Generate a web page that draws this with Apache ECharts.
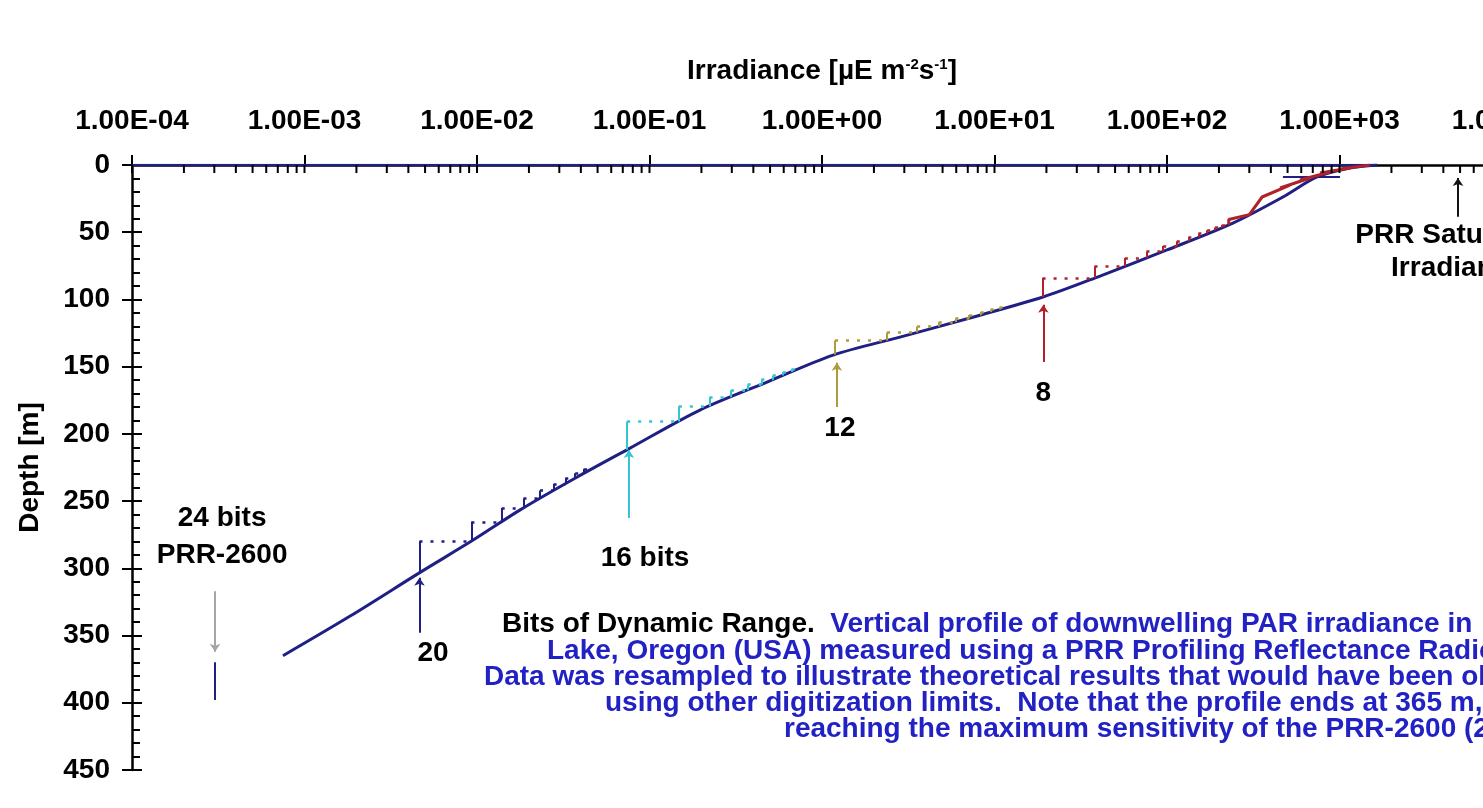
<!DOCTYPE html>
<html><head><meta charset="utf-8">
<script src="https://cdn.jsdelivr.net/npm/echarts@6/dist/echarts.min.js"></script>
<style>html,body{margin:0;padding:0;background:#fff}#c{width:1483px;height:808px}</style>
</head><body><div id="c"></div>
<script>
// ---------- data ----------
const xTickLabels = ['1.00E-04','1.00E-03','1.00E-02','1.00E-01','1.00E+00','1.00E+01','1.00E+02','1.00E+03','1.00E+04'];
const minorMult = [1,2,3,4,5,6,7,8,9];
const decades = [-4,-3,-2,-1,0,1,2,3];

// measured 24-bit profile (irradiance, depth m)
const profileIrr   = [1650, 1150, 741, 470, 241, 100, 40.9, 19.1, 7.2, 2.83, 1.16, 0.48, 0.196, 0.0771, 0.037, 0.0177, 0.0095, 0.00468, 0.00184, 0.00075];
const profileDepth = [0, 2.2, 8.9, 23.8, 43.2, 63.2, 82.6, 98.2, 113.8, 128, 141.4, 161.5, 182.3, 210.6, 233, 256.7, 279, 303, 335.5, 365];

// resampled series: quantized levels and the depth where each level is reached
const lvl20 = [0.00464, 0.00928, 0.0139, 0.0186, 0.0232, 0.0278, 0.0325, 0.0371, 0.0418, 0.0464];
const brk20 = [303, 279.7, 265.4, 255.2, 248.0, 242.1, 237.2, 232.9, 229.3, 226.0];
const lvl16 = [0.0742, 0.148, 0.223, 0.297, 0.371, 0.445, 0.519, 0.594, 0.668, 0.742];
const brk16 = [211.8, 190.8, 179.4, 172.7, 167.5, 163.2, 159.7, 156.6, 154.0, 151.6];
const lvl12 = [1.19, 2.38, 3.56, 4.75, 5.94, 7.13, 8.31, 9.50, 10.7, 11.9];
const brk12 = [141.0, 130.6, 124.5, 120.1, 116.8, 114.0, 111.5, 109.4, 107.5, 105.8];
const lvl8  = [19, 38, 57, 76, 95, 114, 133, 152, 171, 190, 209, 228];
const brk8  = [98.3, 84.1, 75.4, 69.2, 64.3, 60.2, 56.7, 53.7, 51.0, 48.6, 46.5, 44.5];
const tail8Irr   = [228, 228, 300, 356, 516, 452, 675, 590, 881, 771, 1151, 1007, 1503];
const tail8Depth = [44.5, 40.5, 36.9, 23.8, 14.9, 17.1, 9.7, 11.2, 5.2, 6.0, 2.2, 3.0, 0];

// surface line and short bar near the surface
const surfIrr = [1e-4, 1650];
const surfDepth = [0, 0];
const barIrr = [470, 1007];
const barDepth = [8.9, 8.9];

// annotation arrows: [irradiance, depth start, depth tip]
const arrow20  = [0.00464, 348, 307];
const arrow16  = [0.076, 262.6, 212];
const arrow12  = [1.22, 180, 147];
const arrow8   = [19.2, 146.6, 104];
const arrowSat = [4864, 38.5, 9.7];
const arrow24  = [3.03e-4, 317, 362];
const bar24    = [3.03e-4, 369.8, 398];

// annotation labels: [irradiance, depth, text]
const labels = [
  [3.33e-4, 262.6, '24 bits'],
  [3.33e-4, 290.2, 'PRR-2600'],
  [5.56e-3, 363, '20'],
  [0.0942, 292.4, '16 bits'],
  [1.27, 195.7, '12'],
  [19.2, 169.6, '8'],
  [4864, 52.1, 'PRR Saturation'],
  [4864, 76.6, 'Irradiance']
];

const captionBlack = 'Bits of Dynamic Range.';
const captionLines = [
  '  Vertical profile of downwelling PAR irradiance in',
  'Lake, Oregon (USA) measured using a PRR Profiling Reflectance Radiometer.',
  'Data was resampled to illustrate theoretical results that would have been obtained',
  'using other digitization limits.  Note that the profile ends at 365 m,',
  'reaching the maximum sensitivity of the PRR-2600 (24 bits).'
];

// ---------- chart ----------
const F = '"Liberation Sans", Arial, sans-serif';
const NAVY = '#1f1f84';
const CYAN = '#33c6d2';
const OLIVE = '#ab9d3c';
const RED = '#b0222a';
const BLUE_TXT = '#2222c4';

function pairs(xs, ys){ return xs.map((v,i)=>[v, ys[i]]); }
function vertSegs(lvl, brk){ const o=[]; for(let i=0;i<lvl.length-1;i++) o.push({coords:[[lvl[i],brk[i]],[lvl[i],brk[i+1]]]}); return o; }
function jumpSegs(lvl, brk){ const o=[]; for(let i=0;i<lvl.length-1;i++) o.push({coords:[[lvl[i],brk[i+1]],[lvl[i+1],brk[i+1]]]}); return o; }
function arrowSeg(a){ return [{coords:[[a[0],a[1]],[a[0],a[2]]]}]; }

function stepSeries(lvl, brk, color){
  return [
    {type:'lines', coordinateSystem:'cartesian2d', polyline:false, z:3, silent:true,
     data: vertSegs(lvl, brk), lineStyle:{color:color, width:2, opacity:1}, symbol:'none', effect:{show:false}},
    {type:'lines', coordinateSystem:'cartesian2d', polyline:false, z:3, silent:true,
     data: jumpSegs(lvl, brk), lineStyle:{color:color, width:2.5, type:[3,8], opacity:1}, symbol:'none', effect:{show:false}}
  ];
}
function arrowSeries(a, color, arrowAtEnd){
  return {type:'lines', coordinateSystem:'cartesian2d', polyline:false, z:5, silent:true,
    data: arrowSeg(a), lineStyle:{color:color, width:2, opacity:1},
    symbol: arrowAtEnd ? ['none','arrow'] : 'none', symbolSize: 8, effect:{show:false}};
}

const minorData = [];
decades.forEach(e => minorMult.forEach(m => minorData.push([m*Math.pow(10,e), 0])));

const chart = echarts.init(document.getElementById('c'));
const lblStyle = {fontFamily:F, fontWeight:'bold', fontSize:28, color:'#000'};

chart.setOption({
  backgroundColor:'#ffffff',
  animation:false,
  grid:{left:132, right:-29, top:165, bottom:38, containLabel:false, outerBoundsMode:'none'},
  xAxis:{
    type:'log', logBase:10, min:1e-4, max:1e4, position:'top', splitNumber:8,
    axisLine:{show:true, lineStyle:{color:'#000', width:2.5}},
    axisTick:{show:true, inside:false, length:10, lineStyle:{color:'#000', width:2}},
    splitLine:{show:false}, minorTick:{show:false},
    axisLabel:Object.assign({margin:30, hideOverlap:false, formatter:(v)=>xTickLabels[Math.round(Math.log10(v))+4]}, lblStyle),
    name:'{a|Irradiance [µE m}{s|-2}{a|s}{s|-1}{a|]}',
    nameLocation:'middle', nameGap:80,
    nameTextStyle:{rich:{
      a:{fontFamily:F, fontWeight:'bold', fontSize:28, color:'#000'},
      s:{fontFamily:F, fontWeight:'bold', fontSize:15, color:'#000', padding:[0,0,12,0]}
    }}
  },
  yAxis:[
    {type:'value', inverse:true, min:0, max:450, interval:50, position:'left',
     axisLine:{show:true, lineStyle:{color:'#000', width:2.5}},
     axisTick:{show:true, inside:false, length:10, lineStyle:{color:'#000', width:2}},
     splitLine:{show:false},
     axisLabel:Object.assign({margin:22}, lblStyle),
     name:'Depth [m]', nameLocation:'middle', nameGap:88, nameRotate:90,
     nameTextStyle:{fontFamily:F, fontWeight:'bold', fontSize:28, color:'#000'}},
    {type:'value', inverse:true, min:0, max:450, interval:50, position:'left',
     axisLine:{show:false},
     axisTick:{show:true, inside:true, length:10, lineStyle:{color:'#000', width:2}},
     minorTick:{show:true, splitNumber:5, length:8, lineStyle:{color:'#000', width:2}},
     splitLine:{show:false}, axisLabel:{show:false}}
  ],
  series:[
    {type:'custom', coordinateSystem:'cartesian2d', z:6, silent:true, clip:false,
     data:minorData, encode:{x:0, y:1},
     renderItem:(params, api)=>{
       const p = api.coord([api.value(0), api.value(1)]);
       return {type:'line', shape:{x1:p[0], y1:p[1], x2:p[0], y2:p[1]+8}, style:{stroke:'#000', lineWidth:2}};
     }},
    {type:'line', name:'surface', data:pairs(surfIrr, surfDepth), showSymbol:false, z:4, silent:true,
     lineStyle:{color:NAVY, width:2.5}},
    {type:'line', name:'bar', data:pairs(barIrr, barDepth), showSymbol:false, z:4, silent:true,
     lineStyle:{color:NAVY, width:2}},
    {type:'line', name:'24 bits', data:pairs(profileIrr, profileDepth), showSymbol:false, smooth:0.3, z:2, silent:true,
     lineStyle:{color:NAVY, width:3}},
    ...stepSeries(lvl20, brk20, NAVY),
    ...stepSeries(lvl16, brk16, CYAN),
    ...stepSeries(lvl12, brk12, OLIVE),
    ...stepSeries(lvl8, brk8, RED),
    {type:'line', name:'8 bits tail', data:pairs(tail8Irr, tail8Depth), showSymbol:false, z:4, silent:true,
     lineStyle:{color:RED, width:3}},
    arrowSeries(arrow20, NAVY, true),
    arrowSeries(arrow16, CYAN, true),
    arrowSeries(arrow12, OLIVE, true),
    arrowSeries(arrow8, RED, true),
    arrowSeries(arrowSat, '#111', true),
    arrowSeries(arrow24, '#a5a5a5', true),
    arrowSeries(bar24, NAVY, false),
    {type:'scatter', data:labels, symbolSize:0, z:7, silent:true, encode:{x:0, y:1}, clip:false,
     itemStyle:{opacity:1},
     label:Object.assign({show:true, position:'inside', opacity:1, formatter:(p)=>p.data[2]}, lblStyle)}
  ],
  graphic:[
    {type:'text', x:502, y:624, silent:true, style:{
      text:'{k|'+captionBlack+'}{b|'+captionLines[0]+'}', verticalAlign:'middle',
      rich:{k:{fontFamily:F, fontWeight:'bold', fontSize:28, fill:'#000'}, b:{fontFamily:F, fontWeight:'bold', fontSize:28, fill:BLUE_TXT}}}},
    {type:'text', x:547, y:651, silent:true, style:{text:captionLines[1], verticalAlign:'middle', font:'bold 28px '+F, fill:BLUE_TXT}},
    {type:'text', x:484, y:677, silent:true, style:{text:captionLines[2], verticalAlign:'middle', font:'bold 28px '+F, fill:BLUE_TXT}},
    {type:'text', x:605, y:703, silent:true, style:{text:captionLines[3], verticalAlign:'middle', font:'bold 28px '+F, fill:BLUE_TXT}},
    {type:'text', x:784, y:729, silent:true, style:{text:captionLines[4], verticalAlign:'middle', font:'bold 28px '+F, fill:BLUE_TXT}}
  ]
});
</script></body></html>
